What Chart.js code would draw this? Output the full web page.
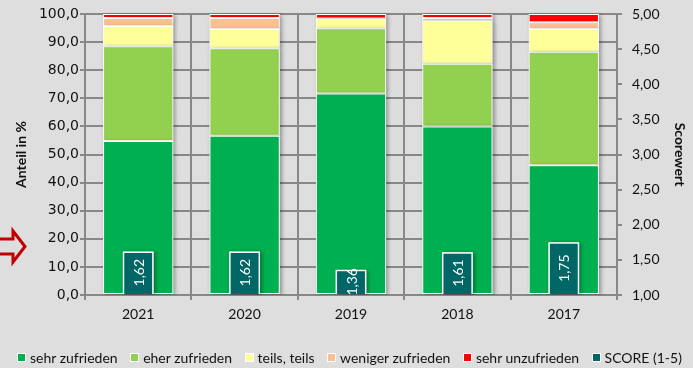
<!DOCTYPE html>
<html lang="de">
<head>
<meta charset="utf-8">
<title>Zufriedenheit 2017–2021</title>
<script src="https://cdn.jsdelivr.net/npm/chart.js@4/dist/chart.umd.min.js"></script>
<style>
  html, body { margin: 0; padding: 0; background: #dedede; }
  #wrap { position: relative; width: 693px; height: 368px; overflow: hidden; background: #dedede; }
  #chart { position: absolute; left: 0; top: 0; }
  #legend {
    position: absolute; left: 3px; top: 348px; width: 693px; height: 18px;
    display: flex; justify-content: center; align-items: center; gap: 12.5px;
    font: 14px Lato, "Open Sans", sans-serif; color: #111; white-space: nowrap;
  }
  #legend .item { display: flex; align-items: center; gap: 4px; }
  #legend .box { width: 7px; height: 7px; border: 1px solid #fff; }
</style>
</head>
<body>
<div id="wrap">
  <canvas id="chart" width="693" height="368"></canvas>
  <div id="legend"></div>
</div>
<script>
// Survey years (left to right)
const years = ['2021', '2020', '2019', '2018', '2017'];

// Share of answers in percent per year
const sehrZufrieden    = [54.8, 56.7, 71.7, 60.0, 46.2];
const eherZufrieden    = [33.7, 31.1, 23.2, 22.3, 40.4];
const teilsTeils       = [7.2, 6.9, 3.5, 15.3, 8.1];
const wenigerZufrieden = [2.9, 3.9, 0.0, 1.0, 2.4];
const sehrUnzufrieden  = [1.4, 1.4, 1.6, 1.4, 2.9];

// Mean score on the 1–5 scale
const score = [1.62, 1.62, 1.36, 1.61, 1.75];

const seriesNames = ['sehr zufrieden', 'eher zufrieden', 'teils, teils', 'weniger zufrieden', 'sehr unzufrieden', 'SCORE (1-5)'];
const seriesColors = ['#00b050', '#92d050', '#ffff99', '#fac090', '#ff0000', '#006666'];

const gridColor = '#888888';
const fmt = (v, d) => v.toFixed(d).replace('.', ',');

const shareSets = [sehrZufrieden, eherZufrieden, teilsTeils, wenigerZufrieden, sehrUnzufrieden].map((data, i) => ({
  label: seriesNames[i],
  data,
  backgroundColor: seriesColors[i],
  borderColor: '#ffffff',
  borderWidth: 1,
  borderSkipped: false,
  stack: 'share',
  yAxisID: 'y',
  barPercentage: 0.66,
  categoryPercentage: 1.0
}));

const scoreSet = {
  label: seriesNames[5],
  data: score,
  backgroundColor: seriesColors[5],
  borderColor: '#ffffff',
  borderWidth: 1.5,
  borderSkipped: 'start',
  yAxisID: 'y2',
  base: 1,
  grouped: false,
  order: -1,
  barPercentage: 0.29,
  categoryPercentage: 1.0
};

// Soft drop shadow behind every bar segment
const barShadow = {
  id: 'barShadow',
  beforeDatasetDraw(chart, args) {
    const ctx = chart.ctx;
    const area = chart.chartArea;
    ctx.save();
    ctx.beginPath();
    ctx.rect(area.left, area.top - 2, area.right - area.left + 6, area.bottom - area.top + 2);
    ctx.clip();
    ctx.shadowColor = 'rgba(0,0,0,0.35)';
    ctx.shadowBlur = 4;
    ctx.shadowOffsetX = 2;
    ctx.shadowOffsetY = 1;
    ctx.fillStyle = '#dedede';
    args.meta.data.forEach(el => {
      const p = el.getProps(['x', 'y', 'base', 'width'], true);
      const h = p.base - p.y;
      if (Math.abs(h) < 0.5) return;
      ctx.fillRect(p.x - p.width / 2, Math.min(p.y, p.base), p.width, Math.abs(h));
    });
    ctx.restore();
  }
};

// Rotated score values inside the score bars
const scoreLabels = {
  id: 'scoreLabels',
  afterDatasetsDraw(chart) {
    const idx = chart.data.datasets.indexOf(scoreSet);
    const meta = chart.getDatasetMeta(idx);
    const ctx = chart.ctx;
    ctx.save();
    ctx.fillStyle = '#ffffff';
    ctx.font = '14px Lato, "Open Sans", sans-serif';
    ctx.textAlign = 'center';
    ctx.textBaseline = 'middle';
    meta.data.forEach((el, i) => {
      const p = el.getProps(['x', 'y', 'base'], true);
      ctx.save();
      ctx.translate(p.x, (p.y + p.base) / 2);
      ctx.rotate(-Math.PI / 2);
      ctx.fillText(fmt(score[i], 2), 0, 1);
      ctx.restore();
    });
    ctx.restore();
  }
};

// Outlined red arrow at the left margin
const sideArrow = {
  id: 'sideArrow',
  afterDraw(chart) {
    const ctx = chart.ctx;
    ctx.save();
    ctx.strokeStyle = '#c00000';
    ctx.lineWidth = 3;
    ctx.lineJoin = 'miter';
    ctx.beginPath();
    ctx.moveTo(-10, 239);
    ctx.lineTo(13, 239);
    ctx.lineTo(13, 231);
    ctx.lineTo(25, 246.5);
    ctx.lineTo(13, 262);
    ctx.lineTo(13, 254);
    ctx.lineTo(-10, 254);
    ctx.stroke();
    ctx.restore();
  }
};

const chart = new Chart(document.getElementById('chart'), {
  type: 'bar',
  data: { labels: years, datasets: [...shareSets, scoreSet] },
  plugins: [barShadow, scoreLabels, sideArrow],
  options: {
    responsive: false,
    animation: false,
    devicePixelRatio: 1,
    layout: { padding: { top: 14, right: 0, bottom: 0, left: 0 } },
    plugins: { legend: { display: false }, tooltip: { enabled: false } },
    scales: {
      x: {
        stacked: true,
        offset: true,
        grid: { color: gridColor, lineWidth: 2, offset: true, tickLength: 5, drawTicks: true },
        border: { color: gridColor, width: 2 },
        ticks: { color: '#111', font: { family: 'Lato', size: 14 }, padding: 6 },
        afterFit(s) { s.height = 73; }
      },
      y: {
        position: 'left',
        stacked: true,
        min: 0, max: 100,
        ticks: { stepSize: 10, color: '#111', font: { family: 'DejaVu Sans', size: 14 }, padding: 1,
                 callback: v => fmt(v, 1) },
        grid: { color: gridColor, lineWidth: 2, tickLength: 5 },
        border: { color: gridColor, width: 2 },
        title: { display: true, text: 'Anteil in %', color: '#111', font: { family: 'Lato', size: 14, weight: 'bold' },
                 padding: { top: 13, bottom: 0 } },
        afterFit(s) { s.width = 85; s.paddingTop = 4; s.paddingBottom = 4; }
      },
      y2: {
        position: 'right',
        stacked: false,
        min: 1, max: 5,
        ticks: { stepSize: 0.5, color: '#111', font: { family: 'Lato', size: 14 }, padding: 10,
                 callback: v => fmt(v, 2) },
        grid: { drawOnChartArea: false, color: gridColor, lineWidth: 2, tickLength: 5 },
        border: { color: gridColor, width: 2 },
        title: { display: true, text: 'Scorewert', color: '#111', font: { family: 'Lato', size: 14, weight: 'bold' },
                 padding: { top: 5, bottom: 0 } },
        afterFit(s) { s.width = 76; s.paddingTop = 4; s.paddingBottom = 4; }
      }
    }
  }
});

// Legend row under the chart
const legend = document.getElementById('legend');
seriesNames.forEach((name, i) => {
  const item = document.createElement('span');
  item.className = 'item';
  const box = document.createElement('span');
  box.className = 'box';
  box.style.background = seriesColors[i];
  const txt = document.createElement('span');
  txt.textContent = name;
  item.appendChild(box);
  item.appendChild(txt);
  legend.appendChild(item);
});
</script>
</body>
</html>
